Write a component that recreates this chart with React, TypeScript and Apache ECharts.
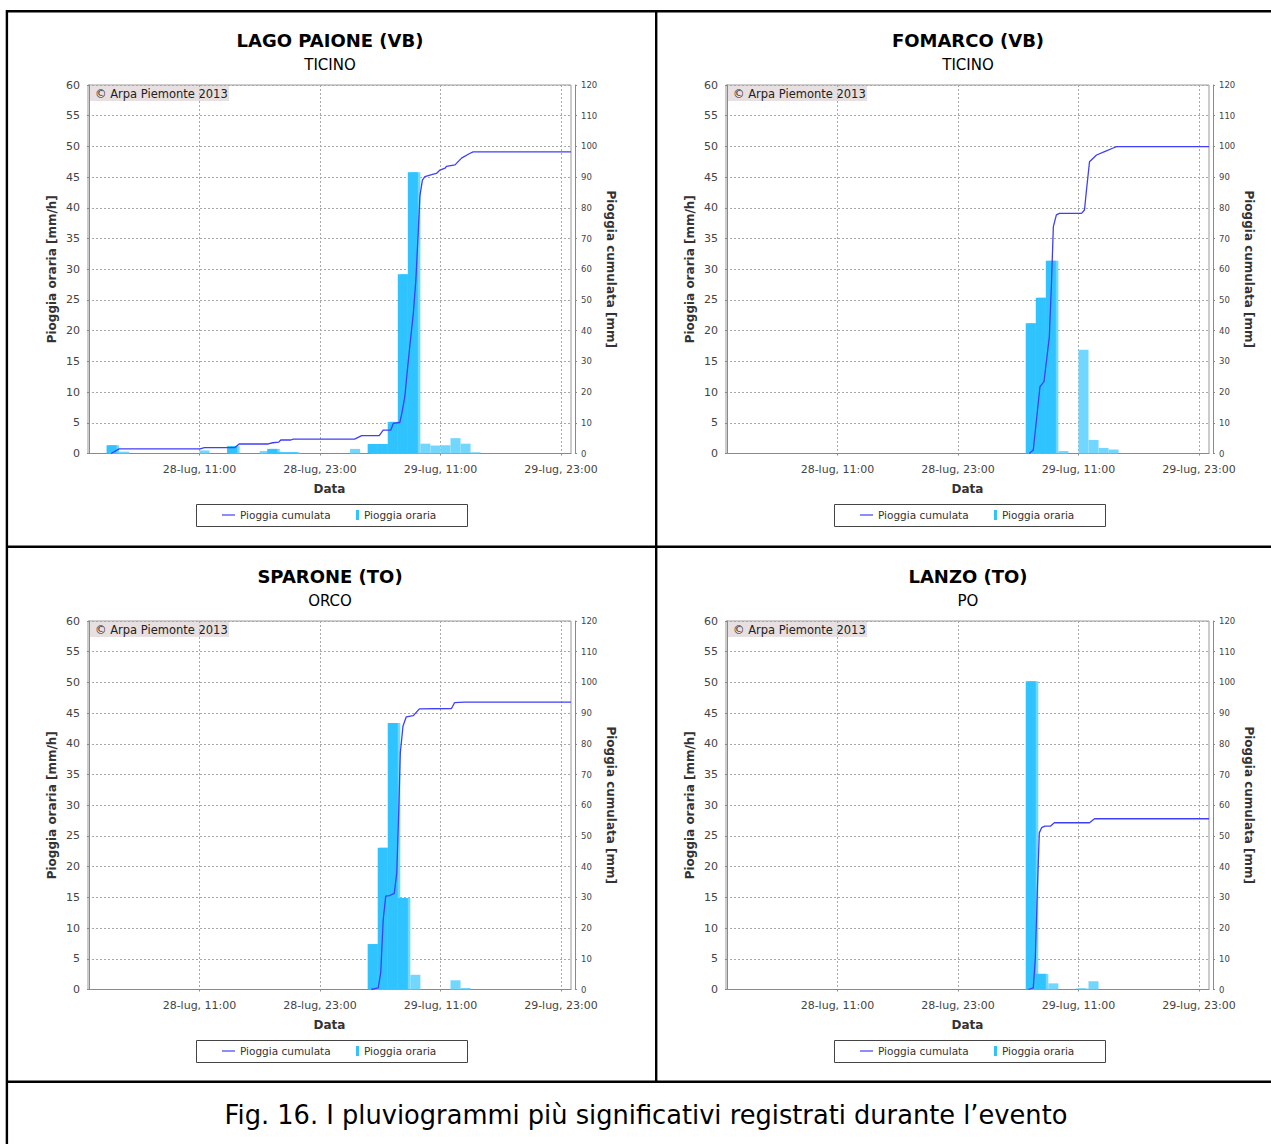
import React, { useEffect, useRef } from "react";
import * as echarts from "echarts";

const FONT = '"DejaVu Sans", Verdana, sans-serif';

// ---- text ----
const stationNames = ["LAGO PAIONE (VB)", "FOMARCO (VB)", "SPARONE (TO)", "LANZO (TO)"];
const basinNames = ["TICINO", "TICINO", "ORCO", "PO"];
const caption = "Fig. 16. I pluviogrammi più significativi registrati durante l’evento";
const copyright = "© Arpa Piemonte 2013";
const leftAxisName = "Pioggia oraria [mm/h]";
const rightAxisName = "Pioggia cumulata [mm]";
const xAxisName = "Data";
const cumName = "Pioggia cumulata";
const hourlyName = "Pioggia oraria";

// ---- x axis (hours since 28-lug 00:00) ----
const xMin = -0.1;
const xMax = 48;
const xTickHours = [11, 23, 35, 47];
const xTickLabels = ["28-lug, 11:00", "28-lug, 23:00", "29-lug, 11:00", "29-lug, 23:00"];

// ---- LAGO PAIONE ----
const paioneHours = [2, 3, 11, 14, 17, 18, 19, 20, 26, 28, 29, 30, 31, 32, 33, 34, 35, 36, 37, 38];
const paioneRain = [1.35, 0.3, 0.5, 1.2, 0.4, 0.75, 0.2, 0.2, 0.75, 1.55, 1.55, 5.15, 29.2, 45.8, 1.6, 1.3, 1.35, 2.5, 1.6, 0.2];
const paioneMainHours = [2, 14, 18, 19, 20, 28, 29, 30, 31, 32];
const paioneCumT = [2.2, 3.0, 11.05, 11.5, 14.5, 14.95, 17.85, 18.3, 18.9, 19.1, 20.1, 20.35, 26.45, 27.15, 28.9, 29.3, 30.05, 30.3, 30.95, 31.15, 31.45, 31.7, 31.95, 32.3, 32.55, 32.8, 32.95, 33.2, 33.45, 34.3, 34.6, 34.95, 35.45, 35.6, 36.45, 37.1, 37.9, 38.25, 48];
const paioneCumV = [0, 1.5, 1.5, 1.9, 1.9, 3.1, 3.1, 3.5, 3.7, 4.4, 4.4, 4.7, 4.7, 5.8, 5.8, 7.6, 7.6, 9.8, 10.1, 13, 18.5, 27, 35, 45.7, 56.5, 72.8, 83.7, 89, 90.2, 91, 91.2, 92.3, 92.9, 93.5, 94, 96.2, 97.7, 98.2, 98.2];

// ---- FOMARCO ----
const fomarcoHours = [30, 31, 32, 33, 35, 36, 37, 38];
const fomarcoRain = [21.2, 25.35, 31.4, 0.4, 16.9, 2.2, 0.9, 0.65];
const fomarcoMainHours = [30, 31, 32];
const fomarcoCumT = [30.1, 30.5, 31.17, 31.57, 32.1, 32.3, 32.5, 32.8, 33.1, 35.3, 35.6, 35.8, 36.1, 36.8, 37.6, 38.4, 38.8, 48];
const fomarcoCumV = [0, 1.1, 21.8, 23.4, 38, 54.3, 73.9, 77.7, 78.2, 78.2, 79.3, 85.8, 95, 97.2, 98.3, 99.4, 99.9, 99.9];

// ---- SPARONE ----
const sparoneHours = [28, 29, 30, 31, 32, 36, 37];
const sparoneRain = [7.4, 23.1, 43.4, 14.9, 2.4, 1.5, 0.25];
const sparoneMainHours = [28, 29, 30, 31];
const sparoneCumT = [28.1, 28.8, 29.05, 29.3, 29.55, 29.95, 30.4, 30.65, 30.85, 31.0, 31.27, 31.6, 32.3, 32.9, 36.1, 36.4, 37.4, 48];
const sparoneCumV = [0, 0.5, 5.4, 22.8, 30.4, 30.6, 31.3, 38, 58.6, 77, 85.8, 88.8, 89.2, 91.4, 91.5, 93.4, 93.6, 93.6];

// ---- LANZO ----
const lanzoHours = [30, 31, 32, 35, 36];
const lanzoRain = [50.2, 2.55, 1.0, 0.15, 1.35];
const lanzoMainHours = [30, 31, 35];
const lanzoCumT = [30.0, 30.5, 30.7, 30.9, 31.1, 31.33, 31.66, 32.2, 32.6, 36.1, 36.6, 48];
const lanzoCumV = [0, 0.5, 9.8, 31.5, 51, 52.7, 53.2, 53.2, 54.3, 54.3, 55.6, 55.6];

// ---- axis ranges ----
const leftMax = 60;
const leftStep = 5;
const rightMax = 120;
const rightStep = 10;

const stations = [
  { hours: paioneHours, rain: paioneRain, main: paioneMainHours, cumT: paioneCumT, cumV: paioneCumV },
  { hours: fomarcoHours, rain: fomarcoRain, main: fomarcoMainHours, cumT: fomarcoCumT, cumV: fomarcoCumV },
  { hours: sparoneHours, rain: sparoneRain, main: sparoneMainHours, cumT: sparoneCumT, cumV: sparoneCumV },
  { hours: lanzoHours, rain: lanzoRain, main: lanzoMainHours, cumT: lanzoCumT, cumV: lanzoCumV },
];

const MAIN_COLOR = "#2fc4ff";
const LIGHT_COLOR = "#72d7ff";
const LINE_COLOR = "#3f3ff7";
const GRID_COLOR = "#a8a8a8";
const AXIS_COLOR = "#8a8a8a";
const TICK_TEXT = "#444";

function barRender(params: any, api: any) {
  const x0 = api.value(0);
  const x1 = api.value(1);
  const v = api.value(2);
  const p0 = api.coord([x0, v]);
  const p1 = api.coord([x1, 0]);
  return {
    type: "rect",
    shape: { x: p0[0], y: p0[1], width: p1[0] - p0[0], height: p1[1] - p0[1] },
    style: { fill: api.visual("color") },
  };
}

function buildOption() {
  const grids: any[] = [];
  const xAxes: any[] = [];
  const yAxes: any[] = [];
  const series: any[] = [];
  const titles: any[] = [];
  const legends: any[] = [];
  const graphics: any[] = [];

  stations.forEach((st, i) => {
    const ox = (i % 2) * 638;
    const oy = Math.floor(i / 2) * 536;

    grids.push({
      left: 88 + ox,
      top: 85 + oy,
      width: 483,
      height: 368.5,
      show: true,
      borderColor: "#999",
      borderWidth: 1,
      backgroundColor: "#fff",
      containLabel: false,
      outerBoundsMode: "none",
    });

    xAxes.push({
      type: "value",
      gridIndex: i,
      position: "bottom",
      min: xMin,
      max: xMax,
      offset: 4,
      name: xAxisName,
      nameLocation: "middle",
      nameGap: 25,
      nameMoveOverlap: false,
      nameTextStyle: { fontFamily: FONT, fontWeight: "bold", fontSize: 12, color: "#333" },
      axisLine: { show: true, lineStyle: { color: AXIS_COLOR, width: 1 } },
      axisTick: { show: true, customValues: xTickHours, length: 2, lineStyle: { color: AXIS_COLOR } },
      axisLabel: {
        customValues: xTickHours,
        formatter: (v: number) => {
          const k = xTickHours.indexOf(Math.round(v));
          return k >= 0 ? xTickLabels[k] : "";
        },
        margin: 6,
        fontFamily: FONT,
        fontSize: 11,
        color: TICK_TEXT,
      },
      splitLine: { show: true, lineStyle: { color: GRID_COLOR, type: [2, 2], width: 1 } },
    });

    yAxes.push({
      type: "value",
      gridIndex: i,
      position: "left",
      min: 0,
      max: leftMax,
      interval: leftStep,
      offset: 4,
      name: leftAxisName,
      nameLocation: "middle",
      nameGap: 26,
      nameMoveOverlap: false,
      nameTextStyle: { fontFamily: FONT, fontWeight: "bold", fontSize: 12, color: "#333" },
      axisLine: { show: true, lineStyle: { color: AXIS_COLOR, width: 1 } },
      axisTick: { show: true, length: 2, lineStyle: { color: AXIS_COLOR } },
      axisLabel: { margin: 4, fontFamily: FONT, fontSize: 11, color: TICK_TEXT },
      splitLine: { show: true, lineStyle: { color: GRID_COLOR, type: [2, 2], width: 1 } },
    });

    yAxes.push({
      type: "value",
      gridIndex: i,
      position: "right",
      min: 0,
      max: rightMax,
      interval: rightStep,
      offset: 4,
      name: rightAxisName,
      nameLocation: "middle",
      nameGap: 30,
      nameRotate: -90,
      nameMoveOverlap: false,
      nameTextStyle: { fontFamily: FONT, fontWeight: "bold", fontSize: 12, color: "#333" },
      axisLine: { show: true, lineStyle: { color: AXIS_COLOR, width: 1 } },
      axisTick: { show: true, length: 2, lineStyle: { color: AXIS_COLOR } },
      axisLabel: { margin: 6, fontFamily: FONT, fontSize: 8.5, color: TICK_TEXT },
      splitLine: { show: false },
    });

    series.push({
      type: "custom",
      name: hourlyName,
      xAxisIndex: i,
      yAxisIndex: 2 * i,
      renderItem: barRender,
      itemStyle: { color: LIGHT_COLOR },
      encode: { x: [0, 1], y: 2 },
      data: st.hours.map((h, k) => [h, h + 1, st.rain[k]]),
      z: 2,
      silent: true,
    });
    series.push({
      type: "custom",
      name: hourlyName,
      xAxisIndex: i,
      yAxisIndex: 2 * i,
      renderItem: barRender,
      itemStyle: { color: MAIN_COLOR },
      encode: { x: [0, 1], y: 2 },
      data: st.main.map((h) => [h - 0.25, h + 0.75, st.rain[st.hours.indexOf(h)]]),
      z: 3,
      silent: true,
    });
    series.push({
      type: "line",
      name: cumName,
      xAxisIndex: i,
      yAxisIndex: 2 * i + 1,
      symbol: "none",
      showSymbol: false,
      lineStyle: { color: LINE_COLOR, width: 1.3 },
      itemStyle: { color: LINE_COLOR },
      data: st.cumT.map((t, k) => [t, st.cumV[k]]),
      z: 5,
      silent: true,
    });

    titles.push({
      text: stationNames[i],
      subtext: basinNames[i],
      left: 330 + ox,
      top: 29 + oy,
      textAlign: "center",
      padding: 0,
      itemGap: 5,
      textStyle: { fontFamily: FONT, fontWeight: "bold", fontSize: 18, color: "#000", lineHeight: 22 },
      subtextStyle: { fontFamily: FONT, fontSize: 15, color: "#000", lineHeight: 18 },
    });

    legends.push({
      left: 222 + ox,
      top: 509 + oy,
      padding: 0,
      itemWidth: 13,
      itemHeight: 10,
      selectedMode: false,
      data: [{ name: cumName, icon: "path://M0 0H13V1.2H0Z", itemStyle: { color: LINE_COLOR, borderWidth: 0 } }],
      lineStyle: { width: 0 },
      textStyle: { fontFamily: FONT, fontSize: 10.5, color: "#333", lineHeight: 12 },
    });
    legends.push({
      left: 356 + ox,
      top: 509 + oy,
      padding: 0,
      itemWidth: 3,
      itemHeight: 10,
      selectedMode: false,
      data: [{ name: hourlyName, icon: "rect", itemStyle: { color: MAIN_COLOR } }],
      textStyle: { fontFamily: FONT, fontSize: 10.5, color: "#333", lineHeight: 12 },
    });

    // copyright label
    graphics.push({
      type: "group",
      x: 90 + ox,
      y: 86 + oy,
      children: [
        { type: "rect", shape: { x: 0, y: 0, width: 139, height: 15 }, style: { fill: "#e8e0e0" } },
        {
          type: "text",
          x: 5,
          y: 8,
          style: { text: copyright, fontFamily: FONT, fontSize: 11.5, fill: "#222", verticalAlign: "middle" },
        },
      ],
      z: 10,
    });
    // legend box
    graphics.push({
      type: "rect",
      shape: { x: 196.5 + ox, y: 504.5 + oy, width: 271, height: 22 },
      style: { fill: "none", stroke: "#444", lineWidth: 1 },
      z: 1,
    });
  });

  // table borders
  const borders = [
    [6, 11.2, 1271, 11.2],
    [6.9, 10, 6.9, 1144],
    [656.2, 10, 656.2, 1082],
    [6, 546.8, 1271, 546.8],
    [6, 1081.8, 1271, 1081.8],
  ];
  borders.forEach((b) => {
    graphics.push({
      type: "line",
      shape: { x1: b[0], y1: b[1], x2: b[2], y2: b[3] },
      style: { stroke: "#000", lineWidth: 2.4 },
      z: 20,
    });
  });

  titles.push({
    text: caption,
    left: 646,
    top: 1100,
    textAlign: "center",
    padding: 0,
    textStyle: { fontFamily: FONT, fontWeight: "normal", fontSize: 25.7, color: "#000", lineHeight: 30 },
  });

  return {
    animation: false,
    backgroundColor: "#fff",
    title: titles,
    legend: legends,
    grid: grids,
    xAxis: xAxes,
    yAxis: yAxes,
    series,
    graphic: graphics,
  };
}

export default function App() {
  const ref = useRef<HTMLDivElement>(null);
  useEffect(() => {
    const chart = echarts.init(ref.current as HTMLDivElement, null, { renderer: "svg", width: 1271, height: 1144 });
    chart.setOption(buildOption() as any);
    return () => chart.dispose();
  }, []);
  return (
    <div
      ref={ref}
      style={{ position: "fixed", left: 0, top: 0, width: 1271, height: 1144, background: "#fff" }}
    />
  );
}
